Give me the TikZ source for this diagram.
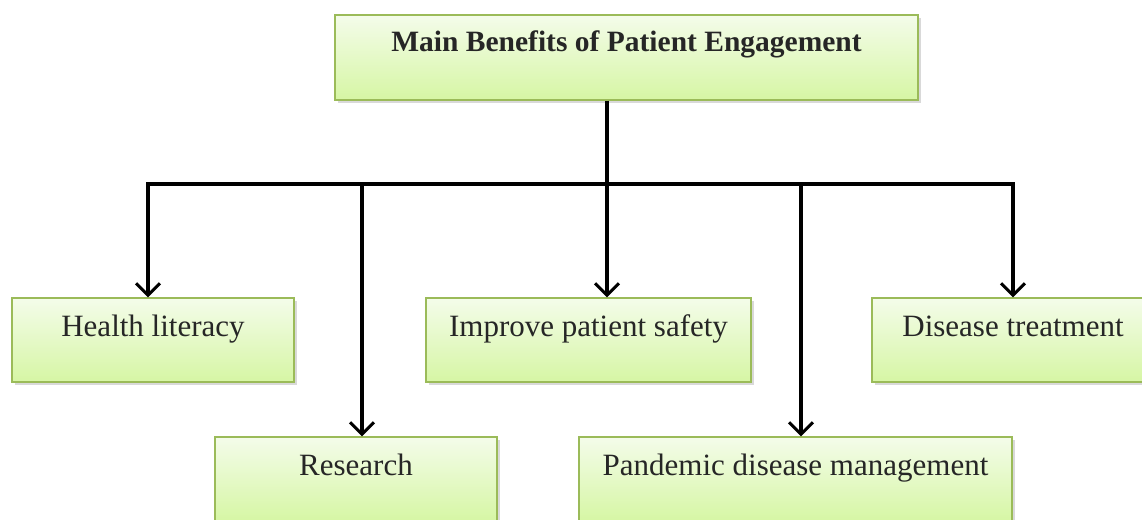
\documentclass[tikz,border=0pt]{standalone}
\usepackage{fontspec}
\setmainfont{Liberation Serif}
\usetikzlibrary{arrows.meta,shadows}

\definecolor{boxedge}{HTML}{9BBB59}
\definecolor{boxtop}{HTML}{F4FCEA}
\definecolor{boxbottom}{HTML}{D6F6A4}

\begin{document}
\begin{tikzpicture}[x=1pt, y=-1pt,
  benefitbox/.style={draw=boxedge, line width=1.2pt,
    top color=boxtop, bottom color=boxbottom,
    drop shadow={shadow xshift=3pt, shadow yshift=-3pt, opacity=0.3},
    inner sep=0pt, text height=38pt, text depth=46pt,
    font=\fontsize{31}{37}\selectfont, text=black!85},
  bus/.style={line width=4pt},
  drop/.style={line width=4pt, -{Straight Barb[length=12pt, width=24pt, line width=3pt]}}]

\useasboundingbox (0,0) rectangle (1142,519);

% heading
\node[benefitbox, minimum width=583pt, text height=37pt, text depth=48pt,
  font=\fontsize{29.5}{35}\selectfont\bfseries] (main) at (626.5,57.5) {Main Benefits of Patient Engagement};

% first row
\node[benefitbox, minimum width=282pt] (health) at (153,340) {Health literacy};
\node[benefitbox, minimum width=325pt] (safety) at (588.5,340) {Improve patient safety};
\node[benefitbox, minimum width=282pt] (treat) at (1013,340) {Disease treatment};

% second row
\node[benefitbox, minimum width=282pt] (research) at (356,479) {Research};
\node[benefitbox, minimum width=433pt] (pandemic) at (795.5,479) {Pandemic disease management};

% bus
\coordinate (join) at (607,184);
\coordinate (busL) at (146,184);
\coordinate (busR) at (1015,184);
\coordinate (tapA) at (148,184);
\coordinate (tapB) at (362,184);
\coordinate (tapC) at (607,184);
\coordinate (tapD) at (801,184);
\coordinate (tapE) at (1013,184);

\draw[bus] (main.south -| join) -- (join);
\draw[bus] (busL) -- (busR);

\draw[drop] (tapA) -- (tapA |- health.north);
\draw[drop] (tapB) -- (tapB |- research.north);
\draw[drop] (tapC) -- (tapC |- safety.north);
\draw[drop] (tapD) -- (tapD |- pandemic.north);
\draw[drop] (tapE) -- (tapE |- treat.north);
\end{tikzpicture}
\end{document}
